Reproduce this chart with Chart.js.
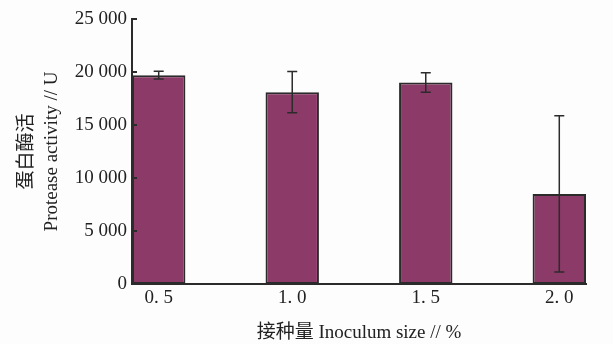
<!DOCTYPE html>
<html>
<head>
<meta charset="utf-8">
<script src="https://cdn.jsdelivr.net/npm/chart.js@4/dist/chart.umd.min.js"></script>
<style>
  body { margin: 0; background: #fdfdfd; }
  #wrap { width: 613px; height: 344px; }
</style>
</head>
<body>
<div id="wrap"><canvas id="chart" width="613" height="344"></canvas></div>
<script>
// Data
const inoculum = [0.5, 1.0, 1.5, 2.0];
const inoculumLabels = ['0. 5', '1. 0', '1. 5', '2. 0'];
const activity = [19700, 18100, 19000, 8500];
const activityErr = [360, 1950, 920, 7370];
const yTicks = [0, 5000, 10000, 15000, 20000, 25000];
const yTickLabels = ['0', '5 000', '10 000', '15 000', '20 000', '25 000'];

const FONT = '"Liberation Serif", "Noto Sans CJK SC", serif';
const INK = '#2b2b2b';

// error bars + inward tick marks on the y axis
const extras = {
    id: 'extras',
    afterDatasetsDraw(chart) {
        const { ctx, scales: { x, y } } = chart;
        ctx.save();
        ctx.strokeStyle = INK;
        ctx.lineWidth = 1.5;
        inoculum.forEach((v, i) => {
            const px = x.getPixelForValue(v);
            const top = y.getPixelForValue(activity[i] + activityErr[i]);
            const bot = y.getPixelForValue(activity[i] - activityErr[i]);
            ctx.beginPath();
            ctx.moveTo(px, top); ctx.lineTo(px, bot);
            ctx.moveTo(px - 5, top); ctx.lineTo(px + 5, top);
            ctx.moveTo(px - 5, bot); ctx.lineTo(px + 5, bot);
            ctx.stroke();
        });
        ctx.lineWidth = 2;
        yTicks.forEach(t => {
            const py = y.getPixelForValue(t);
            ctx.beginPath();
            ctx.moveTo(x.left, py); ctx.lineTo(x.left + 5, py);
            ctx.stroke();
        });
        ctx.restore();
    }
};

new Chart(document.getElementById('chart'), {
    type: 'bar',
    data: {
        datasets: [{
            data: inoculum.map((v, i) => ({ x: v, y: activity[i] })),
            backgroundColor: '#8c3a68',
            borderColor: INK,
            borderWidth: 2,
            borderSkipped: false,
            categoryPercentage: 0.4,
            barPercentage: 1.0
        }]
    },
    options: {
        responsive: false,
        animation: false,
        layout: { padding: { top: 19, right: 27, left: 0, bottom: 0 } },
        plugins: { legend: { display: false }, tooltip: { enabled: false } },
        scales: {
            x: {
                type: 'linear',
                offset: false,
                min: 0.4,
                max: 2.1,
                afterBuildTicks: s => { s.ticks = inoculum.map(v => ({ value: v })); },
                afterFit: s => { s.height = 60; },
                grid: { display: false, drawTicks: false, offset: false },
                border: { display: true, color: INK, width: 2 },
                ticks: {
                    padding: 3,
                    color: '#222',
                    font: { family: FONT, size: 19 },
                    callback: (v, i) => inoculumLabels[i]
                },
                title: {
                    display: true,
                    text: '接种量 Inoculum size // %',
                    color: '#222',
                    font: { family: FONT, size: 19 },
                    padding: { top: 0, bottom: 0 }
                }
            },
            y: {
                min: 0,
                max: 25000,
                afterBuildTicks: s => { s.ticks = yTicks.map(v => ({ value: v })); },
                afterFit: s => { s.width = 132; },
                grid: { display: false, drawTicks: false },
                border: { display: true, color: INK, width: 2 },
                ticks: {
                    padding: 5,
                    color: '#222',
                    font: { family: FONT, size: 19 },
                    callback: (v, i) => yTickLabels[i]
                },
                title: {
                    display: true,
                    text: ['蛋白酶活', 'Protease activity // U'],
                    color: '#222',
                    font: { family: FONT, size: 19, lineHeight: 1.3 },
                    padding: { top: 15, bottom: 0 }
                }
            }
        }
    },
    plugins: [extras]
});
</script>
</body>
</html>
